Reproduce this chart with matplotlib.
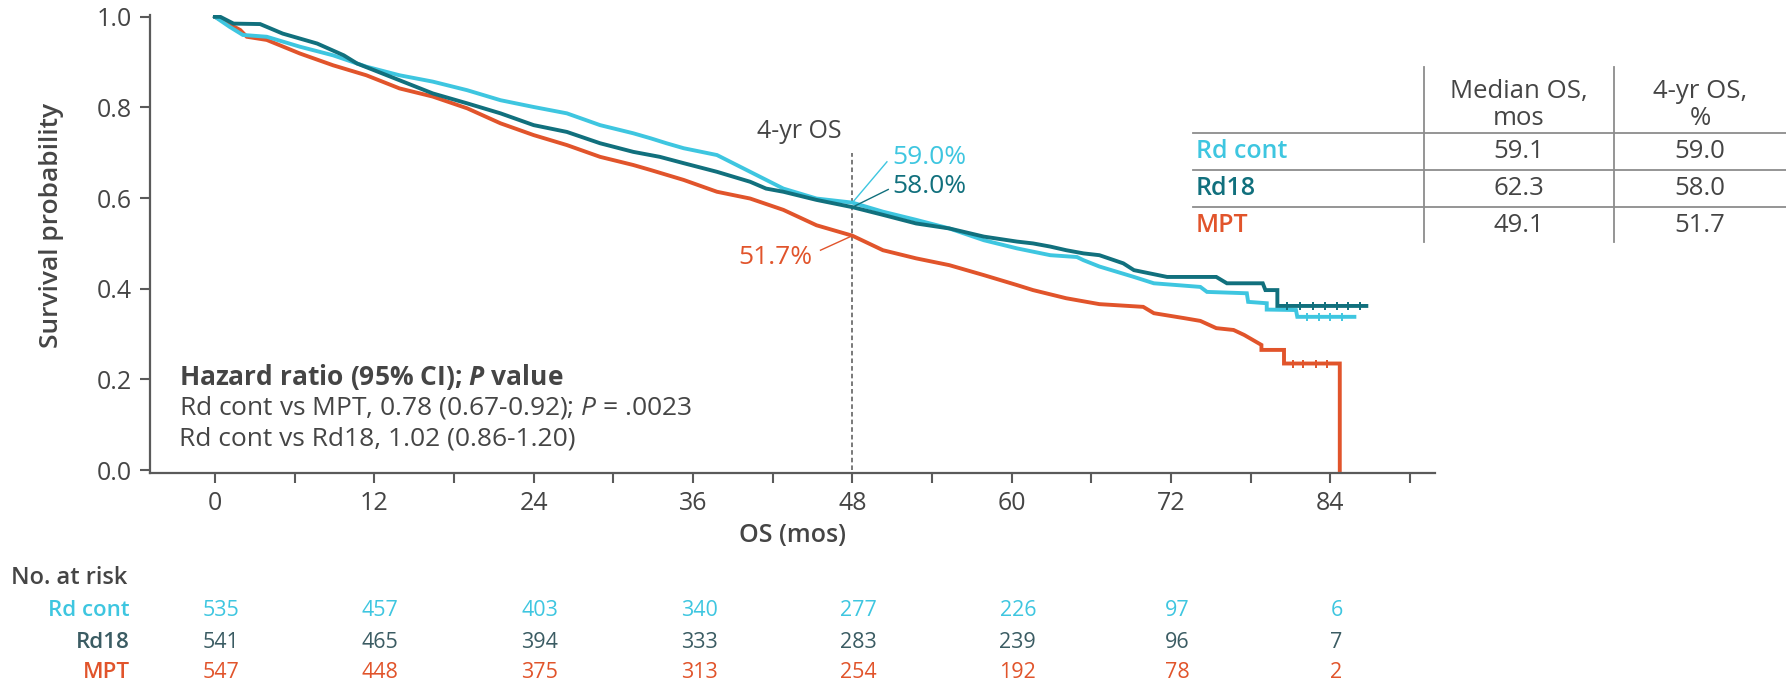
import numpy as np
import matplotlib
matplotlib.use("Agg")
import matplotlib.pyplot as plt
from matplotlib import font_manager
from matplotlib.lines import Line2D
from matplotlib.transforms import blended_transform_factory, ScaledTranslation


def pick_font(names):
    for n in names:
        try:
            font_manager.findfont(n, fallback_to_default=False)
            return n
        except ValueError:
            continue
    return "DejaVu Sans"


FONT = pick_font(["Liberation Sans Narrow", "Open Sans", "Lato"])
plt.rcParams["font.family"] = [FONT, "DejaVu Sans"]
plt.rcParams["mathtext.fontset"] = "custom"
plt.rcParams["mathtext.rm"] = FONT
plt.rcParams["mathtext.it"] = FONT + ":italic"
plt.rcParams["mathtext.bf"] = FONT + ":bold"
plt.rcParams["mathtext.bfit"] = FONT + ":italic:bold"

# --- Kaplan-Meier curves (months, survival probability) ---
rdcont_t = [0, 0.5, 1.1, 2.1, 3.9, 6.4, 8.9, 11.4, 13.9, 16.4, 19.0, 21.5, 24.0,
            26.5, 29.0, 31.5, 32.8, 34.0, 35.3, 37.8, 40.3, 42.8, 45.3, 48.0,
            50.3, 52.8, 55.3, 57.9, 60.4, 62.9, 64.9, 65.4, 66.6, 69.2, 70.7,
            74.2, 74.7, 77.7, 77.8, 79.2, 79.2, 81.4, 81.5, 85.8]
rdcont_s = [1.0, 0.99, 0.978, 0.96, 0.956, 0.934, 0.915, 0.890, 0.871, 0.857,
            0.838, 0.816, 0.801, 0.787, 0.761, 0.743, 0.732, 0.721, 0.710, 0.695,
            0.658, 0.621, 0.599, 0.590, 0.570, 0.552, 0.533, 0.507, 0.489, 0.474,
            0.470, 0.463, 0.449, 0.426, 0.412, 0.404, 0.393, 0.390, 0.371, 0.368,
            0.354, 0.353, 0.338, 0.338]

rd18_t = [0, 0.4, 1.4, 3.4, 5.1, 7.7, 9.7, 10.7, 13.9, 16.4, 19.0, 21.5, 24.0,
          26.5, 29.0, 31.5, 33.5, 35.3, 37.8, 40.3, 41.5, 42.8, 45.3, 48.0, 50.3,
          52.8, 55.3, 57.9, 60.4, 61.6, 62.9, 64.1, 65.4, 66.6, 68.4, 69.2, 71.7,
          75.4, 76.2, 78.9, 79.1, 80.0, 80.0, 86.7]
rd18_s = [1.0, 1.0, 0.985, 0.984, 0.963, 0.941, 0.915, 0.897, 0.860, 0.831,
          0.809, 0.787, 0.761, 0.746, 0.721, 0.702, 0.691, 0.677, 0.658, 0.636,
          0.621, 0.614, 0.596, 0.580, 0.563, 0.544, 0.533, 0.515, 0.504, 0.500,
          0.493, 0.485, 0.478, 0.474, 0.456, 0.441, 0.426, 0.426, 0.412, 0.412,
          0.397, 0.397, 0.362, 0.362]

mpt_t = [0, 1.0, 1.9, 2.4, 3.9, 6.4, 8.9, 11.4, 13.9, 16.4, 19.0, 21.5, 24.0,
         26.5, 29.0, 31.5, 32.8, 35.3, 37.8, 40.3, 42.8, 45.3, 48.0, 50.3, 52.8,
         55.3, 57.9, 60.4, 61.6, 64.1, 66.6, 69.9, 70.7, 73.0, 74.2, 75.4, 76.7,
         77.5, 78.8, 78.8, 80.5, 80.5, 84.7, 84.7]
mpt_s = [1.0, 0.985, 0.971, 0.956, 0.949, 0.919, 0.893, 0.871, 0.842, 0.824,
         0.798, 0.765, 0.739, 0.717, 0.691, 0.673, 0.662, 0.640, 0.614, 0.599,
         0.574, 0.540, 0.517, 0.485, 0.467, 0.452, 0.430, 0.408, 0.397, 0.379,
         0.366, 0.360, 0.346, 0.335, 0.329, 0.313, 0.309, 0.298, 0.276, 0.265,
         0.265, 0.235, 0.235, 0.0]

# censored observations on the flat tails
rdcont_cens = [82.2, 83.1, 84.0, 84.9]
rd18_cens = [80.7, 81.7, 82.7, 83.6, 84.5, 85.3, 86.2]
mpt_cens = [81.2, 81.9, 82.9, 83.7]

arms = ["Rd cont", "Rd18", "MPT"]
median_os = [59.1, 62.3, 49.1]
os_4yr = [59.0, 58.0, 51.7]

risk_times = [0, 12, 24, 36, 48, 60, 72, 84]
risk_rdcont = [535, 457, 403, 340, 277, 226, 97, 6]
risk_rd18 = [541, 465, 394, 333, 283, 239, 96, 7]
risk_mpt = [547, 448, 375, 313, 254, 192, 78, 2]

C_CONT = "#3ec6e0"
C_RD18 = "#11707d"
C_RD18_RISK = "#3b5c63"
C_MPT = "#e1542b"
C_TXT = "#454545"
C_AX = "#5a5a5a"

W, H = 1786, 690
fig = plt.figure(figsize=(W / 100, H / 100), dpi=100)
ax = fig.add_axes([150 / W, 1 - 473 / H, (1435 - 150) / W, (473 - 15) / H])
ax.set_xlim(-4.89, 91.87)
ax.set_ylim(-0.0066, 1.004)

for side in ["top", "right"]:
    ax.spines[side].set_visible(False)
for side in ["left", "bottom"]:
    ax.spines[side].set_color(C_AX)
    ax.spines[side].set_linewidth(1.6)

ax.set_xticks(np.arange(0, 85, 12))
ax.set_xticks(np.arange(6, 91, 12), minor=True)
ax.set_yticks(np.arange(0, 1.01, 0.2))
ax.set_yticklabels([f"{v:.1f}" for v in np.arange(0, 1.01, 0.2)])
ax.tick_params(which="both", length=7, width=1.5, color=C_AX,
               labelsize=18, labelcolor=C_TXT, pad=6)

ax.set_xlabel("OS (mos)", fontsize=18, fontweight="semibold", color=C_TXT)
ax.xaxis.set_label_coords(0.5, (473 - 523) / 458)
fig.text(52 / W, 1 - 225 / H, "Survival probability", rotation=90,
         ha="center", va="center", fontsize=19, fontweight="semibold", color=C_TXT)

# 4-year landmark
ax.plot([48, 48], [0, 0.70], color="#555555", lw=1.1, ls=(0, (3, 2)))
ax.text(44.0, 0.746, "4-yr OS", ha="center", va="center", fontsize=18, color=C_TXT)

series = [
    (mpt_t, mpt_s, mpt_cens, C_MPT),
    (rdcont_t, rdcont_s, rdcont_cens, C_CONT),
    (rd18_t, rd18_s, rd18_cens, C_RD18),
]
for t, s, cens, col in series:
    ax.plot(t, s, color=col, lw=2.8, solid_joinstyle="miter")
    ax.plot(cens, np.interp(cens, t, s), ls="none", marker="|", ms=6,
            mew=1.4, color=col)

# landmark labels with leader lines
ax.text(51.0, 0.690, f"{os_4yr[0]:.1f}%", color=C_CONT, fontsize=19,
        ha="left", va="center")
ax.plot([48, 50.6], [os_4yr[0] / 100, 0.680], color=C_CONT, lw=1.0)
ax.text(51.0, 0.625, f"{os_4yr[1]:.1f}%", color=C_RD18, fontsize=19,
        ha="left", va="center")
ax.plot([48, 50.7], [os_4yr[1] / 100, 0.619], color=C_RD18, lw=1.0)
ax.text(45.0, 0.469, f"{os_4yr[2]:.1f}%", color=C_MPT, fontsize=19,
        ha="right", va="center")
ax.plot([45.6, 48], [0.485, os_4yr[2] / 100], color=C_MPT, lw=1.0)

# hazard ratios
ax.text(-2.7, 0.205, r"Hazard ratio (95% CI); $\mathbfit{P}$ value",
        fontsize=19, fontweight="bold", color=C_TXT, va="center")
ax.text(-2.7, 0.137, r"Rd cont vs MPT, 0.78 (0.67-0.92); $\mathit{P}$ = .0023",
        fontsize=19, color=C_TXT, va="center")
ax.text(-2.7, 0.069, "Rd cont vs Rd18, 1.02 (0.86-1.20)",
        fontsize=19, color=C_TXT, va="center")

# number at risk
trans = blended_transform_factory(ax.transData, fig.transFigure)
trans = trans + ScaledTranslation(6 / 100, 0, fig.dpi_scale_trans)
fig.text(11 / W, 1 - 578 / H, "No. at risk", fontsize=17, fontweight="semibold",
         color=C_TXT, ha="left", va="center")
risk_rows = [
    ("Rd cont", risk_rdcont, C_CONT, C_CONT, 611),
    ("Rd18", risk_rd18, C_RD18_RISK, C_RD18_RISK, 642),
    ("MPT", risk_mpt, C_MPT, C_MPT, 673),
]
for name, vals, col, numcol, ypx in risk_rows:
    y = 1 - ypx / H
    fig.text(130 / W, y, name, fontsize=16, fontweight="semibold", color=col,
             ha="right", va="center")
    for t, v in zip(risk_times, vals):
        fig.text(t, y, str(v), transform=trans, fontsize=15.5, color=numcol,
                 ha="center", va="center")

# summary table
LC = "#8c8c8c"
for ypx in [133, 170, 207]:
    fig.add_artist(Line2D([1193 / W, 1], [1 - ypx / H] * 2, color=LC, lw=1.3))
for xpx in [1424, 1614]:
    fig.add_artist(Line2D([xpx / W] * 2, [1 - 67 / H, 1 - 242 / H], color=LC, lw=1.3))

fig.text(1519 / W, 1 - 105 / H, "Median OS,\nmos", fontsize=18.5, color=C_TXT,
         ha="center", va="center", linespacing=1.15)
fig.text(1700 / W, 1 - 105 / H, "4-yr OS,\n%", fontsize=18.5, color=C_TXT,
         ha="center", va="center", linespacing=1.15)
row_colors = [C_CONT, C_RD18, C_MPT]
for i, ypx in enumerate([151, 188.5, 226]):
    y = 1 - ypx / H
    fig.text(1196 / W, y, arms[i], fontsize=18, fontweight="semibold",
             color=row_colors[i], ha="left", va="center")
    fig.text(1519 / W, y, f"{median_os[i]:.1f}", fontsize=18.5, color=C_TXT,
             ha="center", va="center")
    fig.text(1700 / W, y, f"{os_4yr[i]:.1f}", fontsize=18.5, color=C_TXT,
             ha="center", va="center")

fig.savefig("out.png", dpi=100, facecolor="white")
